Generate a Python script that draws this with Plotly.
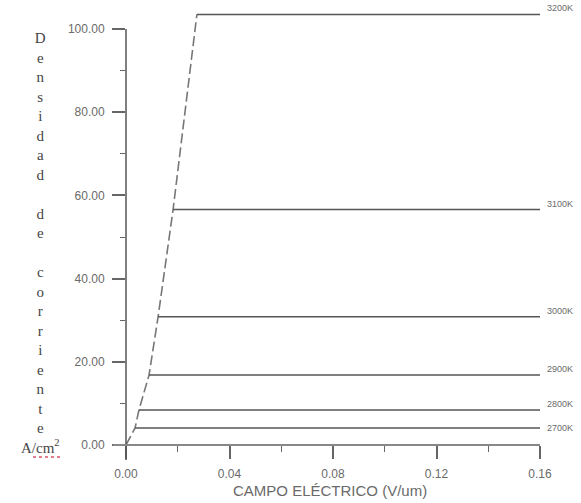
import plotly.graph_objects as go

# ---- data ----
temps = ["2700K", "2800K", "2900K", "3000K", "3100K", "3200K"]
j_sat = [4.1, 8.4, 16.8, 30.8, 56.6, 103.5]          # A/cm^2
e_sat = [0.0035, 0.0050, 0.0089, 0.0124, 0.0182, 0.0274]  # V/um, knee of each curve
e_max = 0.16
x_ticks = [0.00, 0.04, 0.08, 0.12, 0.16]
x_tick_text = ["0.00", "0.04", "0.08", "0.12", "0.16"]
x_minor = [0.02, 0.06, 0.10, 0.14]
y_ticks = [0, 20, 40, 60, 80, 100]
y_tick_text = ["0.00", "20.00", "40.00", "60.00", "80.00", "100.00"]
y_minor = [10, 30, 50, 70, 90]

y_title_lines = list("Densidad") + [" "] + list("de") + [" "] + list("corriente") + ["A/cm<sup>2</sup>"]

# ---- layout geometry ----
W, H = 581, 503
ML, MR, MT, MB = 126, 41, 5, 58
plot_h = H - MT - MB
y_top = 100 + 100 * (29 - MT) / (445 - 29)
y_range = [0, y_top]

label_yshift = {"2700K": 0}

line_col = "#555555"
dash_col = "#777777"
text_col = "#6a6a6a"

fig = go.Figure()

# dashed envelope through the knees
fig.add_trace(go.Scatter(
    x=[0] + e_sat, y=[0] + j_sat, mode="lines",
    line=dict(color=dash_col, width=1.6, dash="10px,4px"),
    hoverinfo="skip", showlegend=False))

# saturation lines
for t, j, e in zip(temps, j_sat, e_sat):
    fig.add_trace(go.Scatter(
        x=[e, e_max], y=[j, j], mode="lines",
        line=dict(color=line_col, width=1.5),
        name=t, showlegend=False))
    fig.add_annotation(
        x=e_max, y=j, text=t, showarrow=False, xanchor="left", yanchor="middle",
        xshift=5, yshift=label_yshift.get(t, 6),
        font=dict(family="Liberation Sans, Arial", size=9, color=text_col))

# y title stacked letters
fig.add_annotation(
    xref="paper", yref="paper",
    x=(40 - ML) / (W - ML - MR), y=(445 - 242.5) / plot_h,
    text="<br>".join(y_title_lines), showarrow=False,
    xanchor="center", yanchor="middle", align="center",
    font=dict(family="Liberation Serif, Times New Roman", size=15, color="#444444"))

# x title
fig.add_annotation(
    xref="paper", yref="paper",
    x=(330 - ML) / (W - ML - MR), y=(445 - 490) / plot_h,
    text="CAMPO ELÉCTRICO (V/um)", showarrow=False,
    xanchor="center", yanchor="middle",
    font=dict(family="Liberation Sans, Arial", size=15, color=text_col))

pw = W - ML - MR
# axis lines (extended like the reference)
fig.add_shape(type="line", xref="paper", yref="paper",
              x0=0, x1=0, y0=-15 / plot_h, y1=100 / y_top,
              line=dict(color="#555555", width=1.5))
fig.add_shape(type="line", xref="paper", yref="paper",
              x0=-13 / pw, x1=1, y0=0, y1=0,
              line=dict(color="#888888", width=2.2))
# spell-check squiggle under cm
fig.add_shape(type="line", xref="paper", yref="paper",
              x0=(33 - ML) / pw, x1=(61 - ML) / pw,
              y0=(445 - 457) / plot_h, y1=(445 - 457) / plot_h,
              line=dict(color="#e0506a", width=1.5, dash="dot"))

fig.update_layout(
    width=W, height=H,
    margin=dict(l=ML, r=MR, t=MT, b=MB),
    paper_bgcolor="white", plot_bgcolor="white",
    showlegend=False,
    xaxis=dict(
        range=[0, e_max], showgrid=False, zeroline=False, showline=False,
        tickmode="array", tickvals=x_ticks, ticktext=x_tick_text,
        ticks="outside", ticklen=13, tickwidth=1.5, tickcolor="#666666",
        minor=dict(tickmode="array", tickvals=x_minor, ticks="outside",
                   ticklen=6, tickwidth=1.2, tickcolor="#666666"),
        tickfont=dict(family="Liberation Sans, Arial", size=12, color=text_col),
        ticklabelstandoff=5),
    yaxis=dict(
        range=y_range, showgrid=False, zeroline=False, showline=False,
        tickmode="array", tickvals=y_ticks, ticktext=y_tick_text,
        ticks="outside", ticklen=13, tickwidth=1.5, tickcolor="#666666",
        minor=dict(tickmode="array", tickvals=y_minor, ticks="outside",
                   ticklen=5, tickwidth=1.2, tickcolor="#666666"),
        tickfont=dict(family="Liberation Sans, Arial", size=12, color=text_col),
        ticklabelstandoff=5),
)

fig.write_html("out.html")
